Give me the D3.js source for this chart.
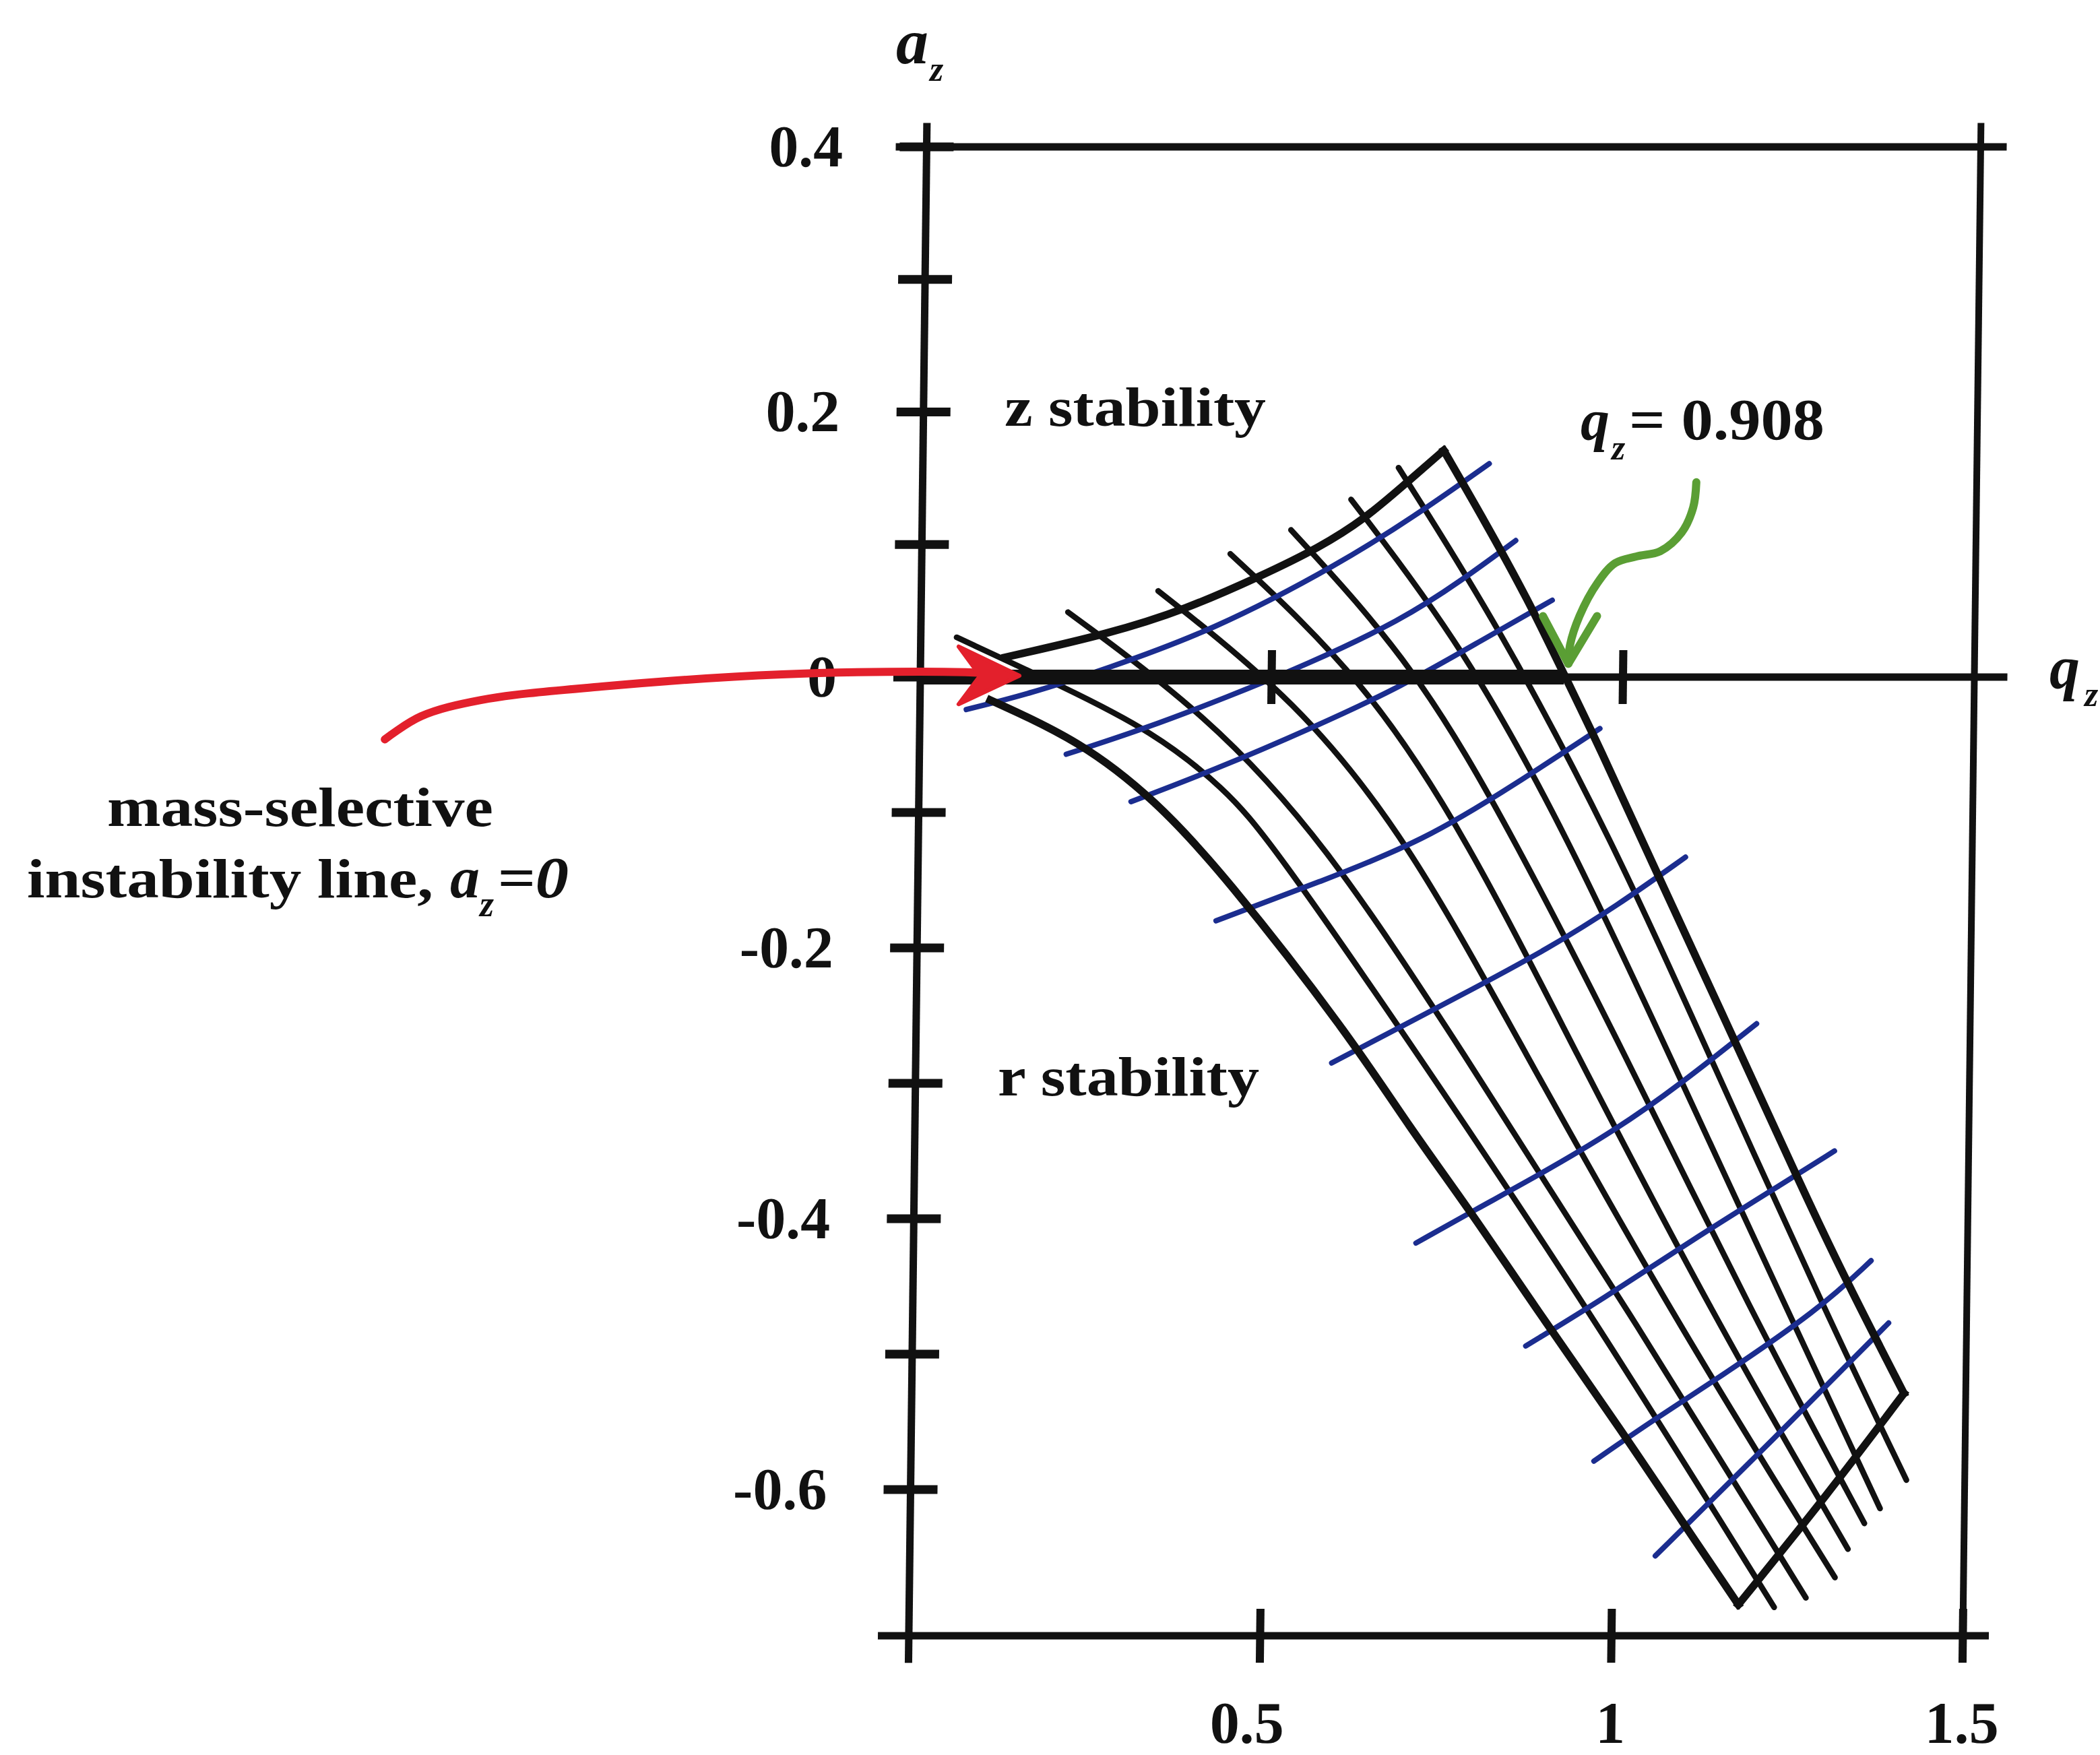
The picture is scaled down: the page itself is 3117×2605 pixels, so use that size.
<!DOCTYPE html>
<html>
<head>
<meta charset="utf-8">
<script src="https://cdnjs.cloudflare.com/ajax/libs/d3/7.8.5/d3.min.js"></script>
<style>
  body { margin: 0; background: #fff; }
  svg { display: block; }
  text { font-family: "Liberation Serif", "Times New Roman", serif; font-weight: bold; fill: #111; }
</style>
</head>
<body>
<script>
// axis ticks and labels
var aTicks = [0.4, 0.3, 0.2, 0.1, 0, -0.1, -0.2, -0.3, -0.4, -0.5, -0.6];
var aLabels = [0.4, 0.2, 0, -0.2, -0.4, -0.6];
var qLabels = [0.5, 1, 1.5];
var qZeroTicks = [0.5, 1];

// boundaries of the first stability region, [q_z, a_z]
var betaR0 = [[0.121,0.015],[0.270,0.033],[0.376,0.051],[0.482,0.076],[0.567,0.098],[0.631,0.120],[0.681,0.143],[0.741,0.171]];
var betaZ1 = [[0.741,0.171],[0.798,0.120],[0.864,0.058],[0.916,0.002],[0.969,-0.053],[1.039,-0.131],[1.153,-0.255],[1.263,-0.377],[1.329,-0.447],[1.412,-0.529]];
var betaR1 = [[1.412,-0.529],[1.306,-0.603],[1.180,-0.685]];
var betaZ0 = [[0.100,-0.017],[0.228,-0.047],[0.337,-0.091],[0.436,-0.146],[0.616,-0.264],[0.703,-0.332],[0.793,-0.395],[0.877,-0.459],[1.017,-0.561],[1.099,-0.624],[1.180,-0.685]];

// iso-beta_z lines (black)
var isoBetaZ = [
  [[0.051,0.030],[0.203,-0.007],[0.331,-0.040],[0.435,-0.082],[0.501,-0.121],[0.705,-0.271],[0.966,-0.470],[1.231,-0.687]],
  [[0.209,0.049],[0.407,-0.027],[0.578,-0.121],[0.771,-0.271],[1.021,-0.470],[1.276,-0.680]],
  [[0.337,0.065],[0.536,-0.017],[0.698,-0.121],[0.860,-0.271],[1.079,-0.470],[1.317,-0.665]],
  [[0.439,0.093],[0.633,-0.002],[0.783,-0.121],[0.933,-0.271],[1.137,-0.470],[1.335,-0.644]],
  [[0.525,0.111],[0.706,0.008],[0.850,-0.121],[1.002,-0.271],[1.194,-0.470],[1.358,-0.625]],
  [[0.610,0.134],[0.773,0.023],[0.927,-0.121],[1.065,-0.271],[1.247,-0.470],[1.380,-0.614]],
  [[0.677,0.158],[0.823,0.038],[0.988,-0.121],[1.122,-0.271],[1.300,-0.470],[1.417,-0.593]]
];

// iso-beta_r lines (blue)
var isoBetaR = [
  [[0.066,-0.024],[0.158,-0.012],[0.263,0.006],[0.415,0.035],[0.594,0.085],[0.711,0.125],[0.806,0.161]],
  [[0.209,-0.057],[0.321,-0.038],[0.436,-0.015],[0.548,0.009],[0.684,0.043],[0.769,0.073],[0.845,0.103]],
  [[0.302,-0.092],[0.418,-0.069],[0.561,-0.037],[0.685,-0.007],[0.799,0.028],[0.898,0.058]],
  [[0.425,-0.180],[0.573,-0.151],[0.719,-0.121],[0.849,-0.079],[0.968,-0.038]],
  [[0.592,-0.285],[0.786,-0.232],[0.900,-0.200],[0.995,-0.169],[1.092,-0.133]],
  [[0.715,-0.418],[0.800,-0.393],[0.888,-0.368],[0.996,-0.335],[1.088,-0.301],[1.196,-0.256]],
  [[0.873,-0.494],[0.983,-0.459],[1.107,-0.416],[1.242,-0.372],[1.309,-0.350]],
  [[0.972,-0.579],[1.052,-0.550],[1.144,-0.519],[1.290,-0.467],[1.363,-0.431]],
  [[1.061,-0.649],[1.225,-0.564],[1.389,-0.477]]
];

// annotation arrows
var redArrow = [[-0.761,-0.046],[-0.710,-0.029],[-0.625,-0.017],[-0.453,-0.007],[-0.197,0.002],[0.033,0.004],[0.100,0.003]];
var redHead = [[0.141,0.001],[0.054,0.023],[0.085,0.001],[0.055,-0.020]];
var greenArrow = [[1.101,0.147],[1.097,0.128],[1.081,0.109],[1.051,0.095],[1.017,0.091],[0.987,0.086],[0.962,0.071],[0.937,0.046],[0.924,0.024],[0.922,0.010]];
var greenHead = [[0.885,0.046],[0.922,0.010],[0.962,0.046]];

var W = 3117, H = 2605;
var ink = "#111", blue = "#1b2d8f";

var svg = d3.select("body").append("svg").attr("width", W).attr("height", H);
svg.append("rect").attr("width", W).attr("height", H).attr("fill", "#fff");

var x = d3.scaleLinear().domain([0, 1]).range([1366, 2409]);
var y = d3.scaleLinear().domain([0.4, 0, -0.708]).range([218, 1005, 2428]);

// the scanned page is a little sheared
var shear = -0.012, y0 = 1005;
var plot = svg.append("g")
  .attr("transform", "translate(" + (-shear * y0) + ",0) skewX(" + (Math.atan(shear) * 180 / Math.PI) + ")");

var smooth = d3.line().x(function(d) { return x(d[0]); }).y(function(d) { return y(d[1]); })
  .curve(d3.curveBasis);
var through = d3.line().x(function(d) { return x(d[0]); }).y(function(d) { return y(d[1]); })
  .curve(d3.curveCatmullRom.alpha(0.5));
var straight = d3.line().x(function(d) { return x(d[0]); }).y(function(d) { return y(d[1]); });

function stroke(path, d, color, w, cap) {
  return plot.append("path").attr("d", path(d)).attr("fill", "none")
    .attr("stroke", color).attr("stroke-width", w)
    .attr("stroke-linecap", cap || "round").attr("stroke-linejoin", "round");
}

// frame and axes
var qLo = -0.044, qHi = 1.537, aTop = 0.4, aBot = -0.708;
stroke(straight, [[qLo, aTop], [qHi, aTop]], ink, 11, "butt");
stroke(straight, [[0, 0.418], [0, -0.728]], ink, 11, "butt");
stroke(straight, [[1.5, 0.418], [1.5, -0.722]], ink, 10, "butt");
stroke(straight, [[qLo, aBot], [qHi, aBot]], ink, 11, "butt");
stroke(straight, [[0, 0], [1.547, 0]], ink, 11, "butt");

// ticks
plot.selectAll(".atick").data(aTicks).enter().append("line")
  .attr("x1", x(0) - 40).attr("x2", x(0) + 40)
  .attr("y1", function(d) { return y(d); }).attr("y2", function(d) { return y(d); })
  .attr("stroke", ink).attr("stroke-width", 13);
plot.selectAll(".qtick").data(qLabels).enter().append("line")
  .attr("x1", function(d) { return x(d); }).attr("x2", function(d) { return x(d); })
  .attr("y1", y(aBot) - 40).attr("y2", y(aBot) + 40)
  .attr("stroke", ink).attr("stroke-width", 12);
plot.selectAll(".q0tick").data(qZeroTicks).enter().append("line")
  .attr("x1", function(d) { return x(d); }).attr("x2", function(d) { return x(d); })
  .attr("y1", y(0) - 40).attr("y2", y(0) + 40)
  .attr("stroke", ink).attr("stroke-width", 12);

// tick labels
plot.selectAll(".alab").data(aLabels).enter().append("text")
  .attr("x", x(0) - 124).attr("y", function(d) { return y(d) + 29; })
  .attr("text-anchor", "end").attr("font-size", 88)
  .text(function(d) { return String(d); });
plot.selectAll(".qlab").data(qLabels).enter().append("text")
  .attr("x", function(d) { return x(d) - (d === 0.5 ? 18 : 0); }).attr("y", 2587)
  .attr("text-anchor", "middle").attr("font-size", 88)
  .text(function(d) { return String(d); });

// iso-beta grid
isoBetaZ.forEach(function(l) { stroke(smooth, l, ink, 8.5); });
isoBetaR.forEach(function(l) { stroke(smooth, l, blue, 8); });

// stability region boundaries
[betaR0, betaZ1, betaR1, betaZ0].forEach(function(b) { stroke(smooth, b, ink, 11.5, "square"); });

// mass-selective instability line a_z = 0
stroke(straight, [[0, 0], [0.916, 0]], ink, 22, "butt");

// red arrow
stroke(through, redArrow, "#e3202c", 12);
plot.append("path").attr("d", straight(redHead) + "Z")
  .attr("fill", "#e3202c").attr("stroke", "#e3202c").attr("stroke-width", 6).attr("stroke-linejoin", "round");

// green arrow
stroke(through, greenArrow, "#5a9e34", 12);
stroke(straight, greenHead, "#5a9e34", 12);

// text
function label(t, px, py, size, opts) {
  opts = opts || {};
  var el = svg.append("text").attr("x", px).attr("y", py).attr("font-size", size).text(t);
  if (opts.italic) el.attr("font-style", "italic");
  if (opts.len) el.attr("textLength", opts.len).attr("lengthAdjust", "spacingAndGlyphs");
  if (opts.anchor) el.attr("text-anchor", opts.anchor);
  return el;
}

label("a", 1330, 94, 96, { italic: true });
label("z", 1380, 120, 52, { italic: true });
label("q", 3042, 1022, 90, { italic: true });
label("z", 3094, 1048, 52, { italic: true });

label("z stability", 1491, 632, 82, { len: 388 });
label("r stability", 1481, 1626, 82, { len: 388 });

label("q", 2346, 652, 86, { italic: true });
label("z", 2392, 682, 52, { italic: true });
label("= 0.908", 2418, 652, 86, { len: 290 });

label("mass-selective", 159, 1226, 82, { len: 573 });
label("instability line,", 40, 1332, 82, { len: 603 });
label("a", 668, 1332, 86, { italic: true, len: 44 });
label("z", 712, 1360, 54, { italic: true });
label("=0", 738, 1332, 86, { italic: true, len: 106 });
</script>
</body>
</html>
